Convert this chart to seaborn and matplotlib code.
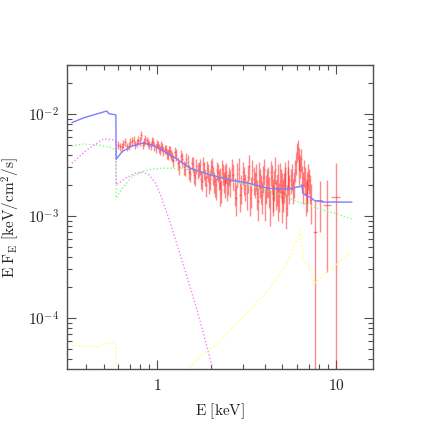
import numpy as np
import matplotlib
matplotlib.use("Agg")
import matplotlib.pyplot as plt
import seaborn as sns
from matplotlib.ticker import FixedLocator, FixedFormatter, LogLocator, NullFormatter

# ---------------- data (energies in keV, fluxes in keV/cm^2/s) ----------------
# total model (blue)
total_e = [0.332, 0.385, 0.448, 0.510, 0.5206, 0.532, 0.555, 0.585, 0.5873, 0.6346, 0.7218,
           0.821, 0.934, 1.062, 1.2085, 1.524, 1.972, 2.552, 3.218, 4.164, 5.386, 6.026,
           6.289, 6.43, 6.51, 6.71, 7.153, 7.464, 7.63, 8.32, 8.35, 12.24]
total_f = [0.00822, 0.00914, 0.00989, 0.01058, 0.01068, 0.01011, 0.00995, 0.00978, 0.00360,
           0.00428, 0.00486, 0.00517, 0.00497, 0.00444, 0.00388, 0.00294, 0.00253, 0.00226,
           0.00210, 0.00187, 0.00183, 0.00192, 0.00194, 0.00202, 0.00168, 0.00161, 0.00153,
           0.00144, 0.00141, 0.00141, 0.00137, 0.00137]

# component 1 (green)
green_e = [0.332, 0.385, 0.478, 0.5436, 0.585, 0.5873, 0.6346, 0.7218, 0.821, 0.934, 1.062,
           1.2085, 1.59, 2.552, 4.923, 6.026, 7.80, 9.66, 12.24]
green_f = [0.00486, 0.00508, 0.00494, 0.00472, 0.00444, 0.00150, 0.00187, 0.00243, 0.00272,
           0.00288, 0.00294, 0.00294, 0.00288, 0.00226, 0.00161, 0.00139, 0.00120, 0.00107,
           0.000939]

# component 2 (magenta)
mag_e = [0.332, 0.4027, 0.4987, 0.5672, 0.585, 0.5873, 0.662, 0.753, 0.821, 0.8953, 0.9745,
         1.039, 1.129, 1.229, 1.460, 1.662, 1.890, 2.016, 2.20]
mag_f = [0.00329, 0.00444, 0.00569, 0.00557, 0.00536, 0.00202, 0.00235, 0.00263, 0.00269,
         0.00253, 0.00210, 0.00161, 0.00107, 0.000680, 0.000256, 0.000121, 5.28e-5, 3.37e-5,
         1.5e-5]

# component 3 (yellow)
yel_e = [0.332, 0.42, 0.478, 0.52, 0.567, 0.585, 0.5873, 1.18, 1.491, 1.734, 2.194, 2.903,
         4.272, 5.299, 6.289, 6.56, 6.998, 7.53, 8.14, 9.66, 12.24]
yel_f = [5.37e-5, 5.28e-5, 5.25e-5, 5.62e-5, 5.70e-5, 5.62e-5, 2e-6, 2.0e-5, 3.18e-5, 4.22e-5,
         5.71e-5, 9.64e-5, 1.97e-4, 3.46e-4, 7.05e-4, 3.59e-4, 3.33e-4, 2.12e-4, 2.48e-4,
         3.21e-4, 4.49e-4]

# observed spectrum (red), flux in units of 1e-3 keV/cm^2/s
# set A
data_e = [0.60, 0.63, 0.66, 0.69, 0.72, 0.75, 0.78, 0.81, 0.84, 0.87, 0.90, 0.93, 0.96, 0.99,
          1.02, 1.05, 1.08, 1.11, 1.14, 1.17, 1.20,
          1.25, 1.30, 1.35, 1.40, 1.45, 1.50, 1.55, 1.60, 1.65, 1.70, 1.75, 1.80, 1.85, 1.90,
          1.95, 2.00, 2.05, 2.10, 2.15, 2.20, 2.25, 2.30, 2.35, 2.40, 2.45, 2.50,
          2.6, 2.7, 2.8, 2.9, 3.0, 3.1, 3.2, 3.3, 3.4, 3.5, 3.6, 3.7, 3.8, 3.9, 4.0, 4.1, 4.2,
          4.3, 4.4, 4.5, 4.6, 4.7, 4.8, 4.9, 5.0, 5.1, 5.2, 5.3, 5.4,
          5.55, 5.7, 5.85, 6.0, 6.15, 6.3, 6.45, 6.6, 6.75, 6.9, 7.05, 7.2]
data_f = [5.0, 4.7, 5.3, 4.9, 5.4, 5.0, 5.6, 6.2, 5.3, 5.5, 5.0, 5.4, 4.8, 5.1,
          4.6, 4.9, 4.3, 4.5, 4.0, 4.3, 3.8,
          4.2, 3.3, 3.9, 3.0, 3.6, 2.7, 3.3, 2.5, 3.1, 2.9, 2.3, 3.2, 2.4, 2.9,
          2.1, 3.0, 2.5, 2.0, 2.8, 2.3, 1.7, 2.9, 2.2, 2.6, 1.9, 2.5,
          2.9, 1.8, 2.6, 1.6, 2.7, 2.0, 2.4, 1.5, 2.8, 2.1, 1.7, 2.6, 1.9, 2.4, 1.4, 2.2, 1.8,
          2.7, 1.5, 2.1, 1.7, 2.5, 1.6, 2.2, 1.3, 2.0, 2.6, 1.5, 2.3,
          2.26, 1.80, 2.84, 4.25, 3.7, 3.17, 2.37, 2.72, 1.61, 2.02, 2.26, 1.44]
data_err = [0.45, 0.45, 0.5, 0.45, 0.5, 0.45, 0.5, 0.6, 0.5, 0.5, 0.45, 0.5, 0.45, 0.5,
            0.45, 0.5, 0.45, 0.45, 0.45, 0.5, 0.45,
            0.5, 0.45, 0.5, 0.45, 0.5, 0.45, 0.5, 0.45, 0.5, 0.5, 0.45, 0.55, 0.45, 0.55,
            0.45, 0.55, 0.5, 0.45, 0.55, 0.5, 0.45, 0.6, 0.5, 0.55, 0.5, 0.55,
            0.7, 0.55, 0.7, 0.5, 0.7, 0.6, 0.7, 0.5, 0.75, 0.6, 0.55, 0.75, 0.6, 0.7, 0.5,
            0.7, 0.6, 0.75, 0.5, 0.7, 0.55, 0.75, 0.5, 0.7, 0.45, 0.65, 0.75, 0.5, 0.7,
            0.6, 0.5, 0.7, 0.9, 0.9, 0.8, 0.7, 0.8, 0.6, 0.7, 0.6, 0.6]
# set B (interleaved bins)
data2_e = [0.615, 0.645, 0.675, 0.705, 0.735, 0.765, 0.795, 0.825, 0.855, 0.885, 0.915,
           0.945, 0.975, 1.005, 1.035, 1.065, 1.095, 1.125, 1.155, 1.185,
           1.225, 1.275, 1.325, 1.375, 1.425, 1.475, 1.525, 1.575, 1.625, 1.675, 1.725,
           1.775, 1.825, 1.875, 1.925, 1.975, 2.025, 2.075, 2.125, 2.175, 2.225, 2.275,
           2.325, 2.375, 2.425, 2.475,
           2.55, 2.65, 2.75, 2.85, 2.95, 3.05, 3.15, 3.25, 3.35, 3.45, 3.55, 3.65, 3.75, 3.85,
           3.95, 4.05, 4.15, 4.25, 4.35, 4.45, 4.55, 4.65, 4.75, 4.85, 4.95, 5.05, 5.15, 5.25,
           5.35,
           5.475, 5.625, 5.775, 5.925, 6.075, 6.225, 6.375, 6.525, 6.675, 6.825, 6.975, 7.125]
data2_f = [4.8, 5.1, 4.8, 5.3, 5.6, 5.2, 5.4, 5.0, 5.7, 5.2, 4.9, 5.3, 4.6, 5.0, 4.4, 4.7,
           4.5, 4.1, 4.4, 4.0,
           3.5, 4.0, 3.0, 3.6, 2.9, 3.4, 2.6, 3.2, 2.4, 2.8, 3.1, 2.2, 2.8, 2.0, 2.7, 2.3,
           3.1, 2.2, 1.9, 2.7, 2.4, 1.8, 2.6, 2.0, 2.7, 2.1,
           2.2, 2.5, 1.5, 2.9, 1.9, 2.3, 1.7, 3.1, 1.8, 2.3, 2.5, 1.4, 2.2, 1.6, 2.8, 1.9,
           2.3, 1.3, 2.4, 1.7, 2.9, 1.9, 1.4, 2.5, 2.0, 1.7, 2.3, 1.2, 2.7,
           1.9, 2.5, 2.1, 3.3, 4.6, 2.8, 3.6, 2.0, 2.3, 1.7, 2.5, 1.9]
data2_err = [0.45, 0.45, 0.45, 0.5, 0.5, 0.45, 0.5, 0.45, 0.55, 0.5, 0.45, 0.5, 0.45, 0.45,
             0.45, 0.45, 0.45, 0.45, 0.45, 0.45,
             0.5, 0.55, 0.45, 0.55, 0.45, 0.55, 0.45, 0.55, 0.45, 0.5, 0.55, 0.45, 0.55,
             0.45, 0.55, 0.5, 0.6, 0.5, 0.45, 0.55, 0.55, 0.45, 0.6, 0.5, 0.6, 0.5,
             0.65, 0.7, 0.5, 0.8, 0.6, 0.7, 0.55, 0.85, 0.6, 0.7, 0.75, 0.5, 0.7, 0.55, 0.8,
             0.6, 0.75, 0.5, 0.75, 0.6, 0.85, 0.65, 0.5, 0.8, 0.65, 0.6, 0.75, 0.45, 0.8,
             0.6, 0.7, 0.6, 0.8, 1.0, 0.8, 0.9, 0.7, 0.7, 0.6, 0.7, 0.6]

# sparse high-energy bins (flux 1e-3 keV/cm^2/s)
hi_e = [7.58, 8.07, 8.87, 9.94]
hi_halfwidth = [0.2, 0.35, 0.45, 0.6]
hi_f = [0.705, 1.41, 1.29, 1.53]
hi_low = [0.0001, 0.705, 0.286, 0.0001]
hi_up = [1.44, 2.18, 2.26, 3.34]

x_ticks = [1, 10]
x_ticklabels = [r"$1$", r"$10$"]
y_ticks = [1e-4, 1e-3, 1e-2]
y_ticklabels = [r"$10^{-4}$", r"$10^{-3}$", r"$10^{-2}$"]

# ---------------- plotting ----------------
sns.set_style("ticks")
plt.rcParams["font.family"] = ["DejaVu Serif"]
plt.rcParams["mathtext.fontset"] = "cm"

fig = plt.figure(figsize=(4.36, 4.36), dpi=100)
ax = fig.add_axes([0.1544, 0.153, 0.7005, 0.698])
ax.set_xscale("log")
ax.set_yscale("log")

de = np.concatenate([data_e, data2_e])
dfl = np.concatenate([data_f, data2_f])
der = np.concatenate([data_err, data2_err])
order = np.argsort(de)
de, dfl, der = de[order], dfl[order] * 1e-3, der[order] * 1e-3
xw = np.gradient(de) / 2.0
ax.errorbar(de, dfl, yerr=der, xerr=xw, fmt="none", ecolor=(1.0, 0.1, 0.1),
            alpha=0.5, elinewidth=1.0, capsize=0, zorder=2)

hf = np.array(hi_f) * 1e-3
ylo = hf - np.array(hi_low) * 1e-3
yhi = np.array(hi_up) * 1e-3 - hf
ax.errorbar(hi_e, hf, yerr=[ylo, yhi], xerr=hi_halfwidth, fmt="none",
            ecolor=(1.0, 0.1, 0.1), alpha=0.5, elinewidth=1.0, capsize=0, zorder=2)

dot = (0, (1, 1.5))
sns.lineplot(x=green_e, y=green_f, ax=ax, color="#7dff7d", linestyle=dot, lw=1.0,
             estimator=None, sort=False, zorder=3)
sns.lineplot(x=mag_e, y=mag_f, ax=ax, color="#ff7dff", linestyle=dot, lw=1.0,
             estimator=None, sort=False, zorder=3)
sns.lineplot(x=yel_e, y=yel_f, ax=ax, color="#ffff70", linestyle=dot, lw=1.0,
             estimator=None, sort=False, zorder=3)
sns.lineplot(x=total_e, y=total_f, ax=ax, color="#7d7dff", lw=1.0,
             estimator=None, sort=False, zorder=4)

ax.set_xlim(0.313, 16.0)
ax.set_ylim(3.15e-5, 0.0302)

ax.xaxis.set_major_locator(FixedLocator(x_ticks))
ax.xaxis.set_major_formatter(FixedFormatter(x_ticklabels))
ax.xaxis.set_minor_locator(LogLocator(base=10, subs=np.arange(2, 10)))
ax.xaxis.set_minor_formatter(NullFormatter())
ax.yaxis.set_major_locator(FixedLocator(y_ticks))
ax.yaxis.set_major_formatter(FixedFormatter(y_ticklabels))
ax.yaxis.set_minor_locator(LogLocator(base=10, subs=np.arange(2, 10)))
ax.yaxis.set_minor_formatter(NullFormatter())

spc = "#505050"
for s in ax.spines.values():
    s.set_color(spc)
    s.set_linewidth(1.0)
ax.tick_params(which="both", direction="in", top=True, right=True, color=spc,
               width=0.8, labelsize=11, labelcolor="#222222")
ax.tick_params(which="major", length=6.5, pad=6)
ax.tick_params(which="minor", length=3.3)

ax.set_xlabel(r"$\mathrm{E\ [keV]}$", fontsize=11, color="#222222", labelpad=6)
ax.set_ylabel(r"$\mathrm{E\ F_{E}\ [keV/cm^{2}/s]}$", fontsize=11, color="#222222",
              labelpad=4)

fig.savefig("out.png", dpi=100)
